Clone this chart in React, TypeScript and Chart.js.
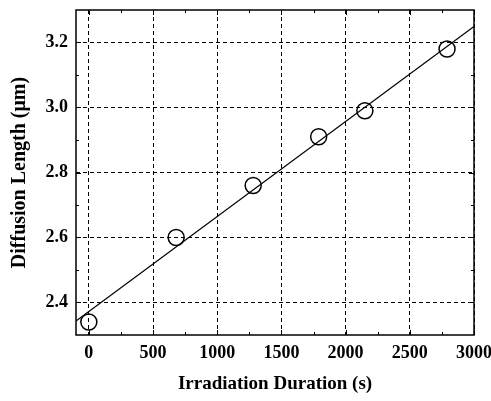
import React, { useEffect, useRef } from "react";
import { Chart, registerables } from "chart.js";

Chart.register(...registerables);

const durations = [0, 680, 1280, 1790, 2150, 2790];
const lengths = [2.34, 2.6, 2.76, 2.91, 2.99, 3.18];
const fitX = [-100, 3000];
const fitY = [2.343, 3.249];
const xTicks = [0, 500, 1000, 1500, 2000, 2500, 3000];
const yTicks = [2.4, 2.6, 2.8, 3.0, 3.2];
const xMinor = [250, 750, 1250, 1750, 2250, 2750];
const yMinor = [2.5, 2.7, 2.9, 3.1];

const FONT = "'Liberation Serif', 'Times New Roman', serif";

const framePlugin = {
  id: "frame",
  afterDraw(chart: any) {
    const { ctx, chartArea: a, scales } = chart;
    const xs = scales.x;
    const ys = scales.y;
    ctx.save();
    ctx.strokeStyle = "#000";
    ctx.lineWidth = 1.5;
    ctx.strokeRect(a.left, a.top, a.right - a.left, a.bottom - a.top);
    ctx.lineWidth = 1;
    ctx.beginPath();
    const drawX = (v: number, len: number) => {
      const px = Math.round(xs.getPixelForValue(v)) + 0.5;
      ctx.moveTo(px, a.bottom);
      ctx.lineTo(px, a.bottom - len);
      ctx.moveTo(px, a.top);
      ctx.lineTo(px, a.top + len);
    };
    const drawY = (v: number, len: number) => {
      const py = Math.round(ys.getPixelForValue(v)) + 0.5;
      ctx.moveTo(a.left, py);
      ctx.lineTo(a.left + len, py);
      ctx.moveTo(a.right, py);
      ctx.lineTo(a.right - len, py);
    };
    xTicks.forEach((v) => drawX(v, 5));
    xMinor.forEach((v) => drawX(v, 3));
    yTicks.forEach((v) => drawY(v, 5));
    yMinor.forEach((v) => drawY(v, 3));
    ctx.stroke();
    ctx.restore();
  },
};

const zeroPad = (s: any) => {
  s.paddingLeft = 0;
  s.paddingRight = 0;
  s.paddingTop = 0;
  s.paddingBottom = 0;
};

export default function App() {
  const ref = useRef<HTMLCanvasElement>(null);
  useEffect(() => {
    document.body.style.margin = "0";
    const chart = new Chart(ref.current as HTMLCanvasElement, {
      type: "scatter",
      data: {
        datasets: [
          {
            type: "line",
            data: fitX.map((x, i) => ({ x, y: fitY[i] })),
            borderColor: "#000",
            borderWidth: 1.2,
            pointRadius: 0,
            fill: false,
          },
          {
            type: "scatter",
            data: durations.map((x, i) => ({ x, y: lengths[i] })),
            pointRadius: 8,
            pointBorderWidth: 1.5,
            borderColor: "#000",
            backgroundColor: "rgba(0,0,0,0)",
            pointBackgroundColor: "rgba(0,0,0,0)",
          },
        ],
      },
      options: {
        animation: false,
        responsive: false,
        layout: { padding: { top: 10, right: 17, left: 0, bottom: 0 } },
        plugins: { legend: { display: false }, tooltip: { enabled: false } },
        scales: {
          x: {
            type: "linear",
            min: -100,
            max: 3000,
            afterBuildTicks: (s: any) => {
              s.ticks = xTicks.map((v) => ({ value: v }));
            },
            afterFit: (s: any) => {
              s.height = 66;
              zeroPad(s);
            },
            grid: { color: "#000", lineWidth: 1, drawTicks: false },
            border: { display: false, dash: [4, 3] },
            ticks: {
              color: "#000",
              padding: 8,
              maxRotation: 0,
              callback: (v: any) => String(v),
              font: { family: FONT, size: 18, weight: "bold" },
            },
            title: {
              display: true,
              text: "Irradiation Duration (s)",
              color: "#000",
              padding: { top: 0, bottom: 5.5 },
              font: { family: FONT, size: 19, weight: "bold" },
            },
          },
          y: {
            type: "linear",
            min: 2.3,
            max: 3.3,
            afterBuildTicks: (s: any) => {
              s.ticks = yTicks.map((v) => ({ value: v }));
            },
            afterFit: (s: any) => {
              s.width = 76;
              zeroPad(s);
            },
            grid: { color: "#000", lineWidth: 1, drawTicks: false },
            border: { display: false, dash: [4, 3] },
            ticks: {
              color: "#000",
              padding: 8,
              callback: (v: any) => Number(v).toFixed(1),
              font: { family: FONT, size: 18, weight: "bold" },
            },
            title: {
              display: true,
              text: "Diffusion Length (\u03bcm)",
              color: "#000",
              padding: { top: 8, bottom: 0 },
              font: { family: FONT, size: 20, weight: "bold" },
            },
          },
        },
      } as any,
      plugins: [framePlugin],
    });
    return () => chart.destroy();
  }, []);
  return (
    <div style={{ width: 491, height: 401, background: "#fff" }}>
      <canvas ref={ref} width={491} height={401} />
    </div>
  );
}
